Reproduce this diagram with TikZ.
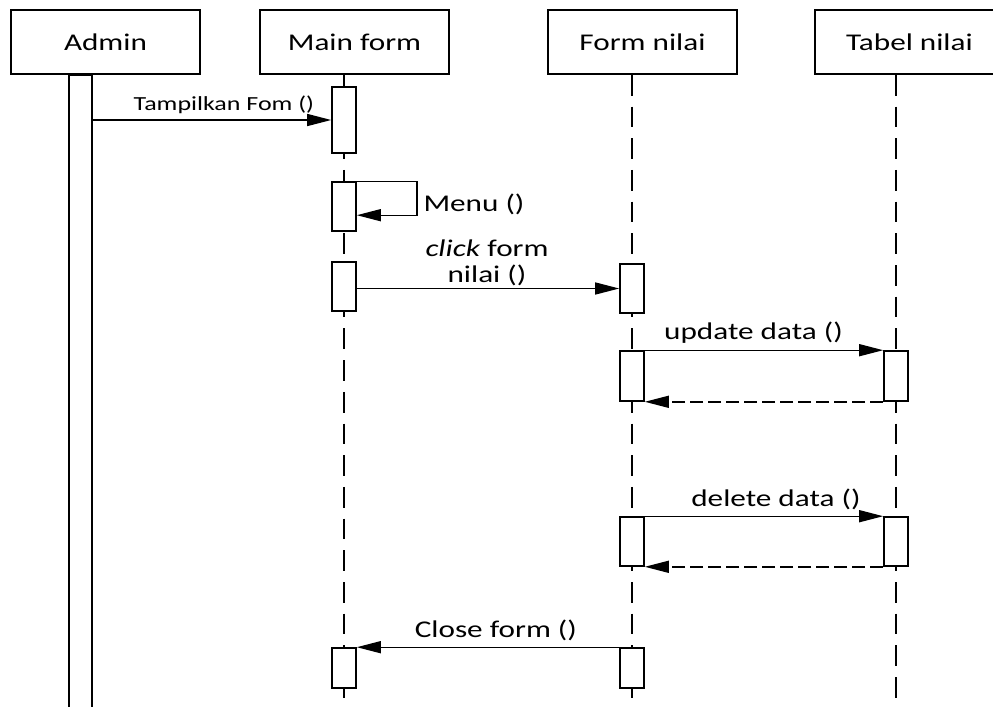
\documentclass[tikz,border=0pt]{standalone}
\usepackage{fontspec}
\setmainfont[FakeStretch=1.3]{Carlito}
\usetikzlibrary{arrows.meta}
\tikzset{
  obj/.style={draw, line width=0.8pt, minimum width=94.5pt, minimum height=32pt, inner sep=0pt, font=\fontsize{12}{14}\selectfont},
  act/.style={draw, line width=0.8pt, fill=white, minimum width=12pt, inner sep=0pt},
  msg/.style={line width=0.7pt, -{Triangle[length=12pt,width=6pt]}},
  ret/.style={msg, dash pattern=on 6.5pt off 2.5pt},
  life/.style={line width=0.8pt, dash pattern=on 10.35pt off 5.5pt},
  lbl/.style={inner sep=3pt, font=\fontsize{12}{13}\selectfont},
}
\begin{document}
\begin{tikzpicture}[x=0.5pt,y=-0.5pt]
\useasboundingbox (0,0) rectangle (993,707);
\clip (0,0) rectangle (993,707);
% objects
\node[obj] (admin) at (105.5,42) {Admin};
\node[obj] (mainform) at (354.5,42) {Main form};
\node[obj] (formnilai) at (642.5,42) {Form nilai};
\node[obj] (tabelnilai) at (909.5,42) {Tabel nilai};
% lifelines
\foreach \n/\s in {mainform/-5.25pt, formnilai/-5.25pt, tabelnilai/-6.75pt}
  \draw[life] ([xshift=\s]\n.south) -- ++(0,623);
\node[act, minimum width=11.5pt, minimum height=330pt, anchor=north] (adminact) at (80.5,74) {};
% activations
\node[act, minimum height=33pt] (mf1) at (344,120) {};
\node[act, minimum height=24.5pt] (mf2) at (344,206.5) {};
\node[act, minimum height=24.5pt] (mf3) at (344,286.5) {};
\node[act, minimum height=20pt] (mf4) at (344,668) {};
\node[act, minimum height=24.5pt] (fn1) at (632,288.5) {};
\node[act, minimum height=25pt] (fn2) at (632,376) {};
\node[act, minimum height=24.5pt] (fn3) at (632,541.5) {};
\node[act, minimum height=20pt] (fn4) at (632,668) {};
\node[act, minimum height=25pt] (tn1) at (896,376) {};
\node[act, minimum height=24.5pt] (tn2) at (896,541.5) {};
% messages
\draw[msg] (adminact.east |- mf1.west) -- (mf1.west)
  node[lbl, above, pos=0.55, font=\fontsize{10}{12}\selectfont] {Tampilkan Fom ()};
\draw[msg] (mf2.north east) -- ++(60,0) -- ++(0,34)
  node[lbl, right, midway, yshift=-3pt] {Menu ()} -- ++(-60,0);
\draw[msg] (fn1.west -| mf3.east) -- (fn1.west);
\node[lbl, align=center, inner sep=0pt] (clicklbl) at (487,263) {\textit{click} form\\nilai ()};
\draw[msg] (fn2.north east) -- (tn1.north west)
  node[lbl, above, pos=0.456] {update data ()};
\draw[ret] (tn1.south west) -- (fn2.south east);
\draw[msg] (fn3.north east) -- (tn2.north west)
  node[lbl, above, pos=0.55] {delete data ()};
\draw[ret] (tn2.south west) -- (fn3.south east);
\draw[msg] (fn4.north west) -- (mf4.north east)
  node[lbl, above, pos=0.47] {Close form ()};
\end{tikzpicture}
\end{document}
